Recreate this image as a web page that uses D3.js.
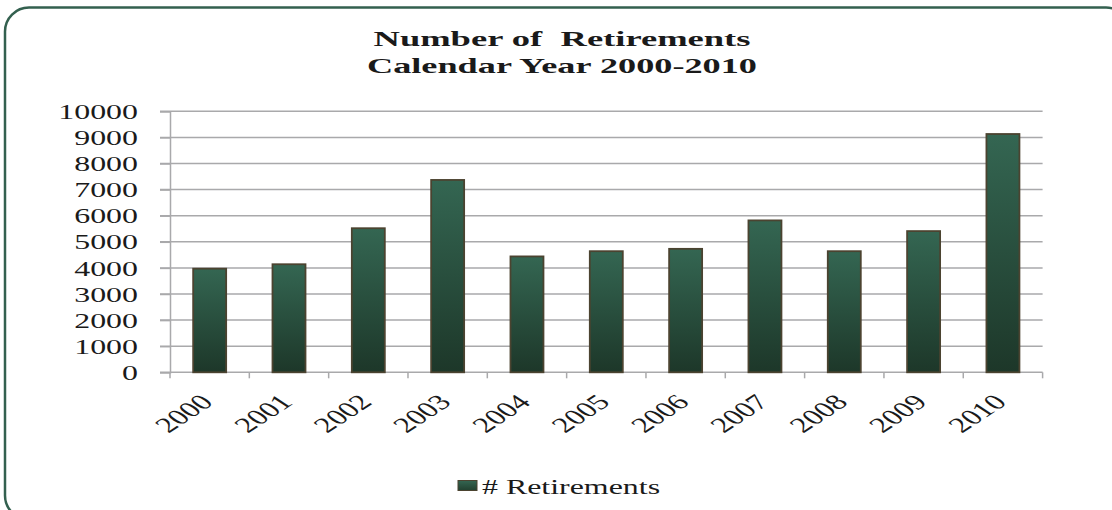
<!DOCTYPE html>
<html>
<head>
<meta charset="utf-8">
<script src="https://cdn.jsdelivr.net/npm/d3@7"></script>
<style>
  html, body { margin: 0; padding: 0; background: #fff; }
  svg { display: block; }
</style>
</head>
<body>
<svg id="chart" width="1112" height="510"></svg>
<script>
const years = ["2000","2001","2002","2003","2004","2005","2006","2007","2008","2009","2010"];
const retirements = [3970, 4140, 5520, 7370, 4440, 4640, 4730, 5820, 4640, 5410, 9130];
const yTicks = [0,1000,2000,3000,4000,5000,6000,7000,8000,9000,10000];
const titleLines = ["Number of  Retirements", "Calendar Year 2000-2010"];
const seriesName = "# Retirements";

const FONT = "'Liberation Serif', 'Times New Roman', serif";
const svg = d3.select("#chart");
const SX = 1.52; // horizontal stretch of the picture's text

// frame
svg.append("rect")
  .attr("x", 5).attr("y", 7.5)
  .attr("width", 1125).attr("height", 512)
  .attr("rx", 24).attr("ry", 24)
  .attr("fill", "#fff")
  .attr("stroke", "#33604f").attr("stroke-width", 2.5);

const plot = { left: 170, right: 1042.6, top: 111.3, bottom: 372.3 };

const x = d3.scaleBand().domain(years).range([plot.left, plot.right]).paddingInner(0).paddingOuter(0);
const y = d3.scaleLinear().domain([0, 10000]).range([plot.bottom, plot.top]);

// gradient
const defs = svg.append("defs");
const grad = defs.append("linearGradient").attr("id", "barGrad")
  .attr("x1", 0).attr("y1", 0).attr("x2", 0).attr("y2", 1);
grad.append("stop").attr("offset", "0%").attr("stop-color", "#346652");
grad.append("stop").attr("offset", "100%").attr("stop-color", "#1d3729");
const lgrad = defs.append("linearGradient").attr("id", "legGrad")
  .attr("x1", 0).attr("y1", 0).attr("x2", 0).attr("y2", 1);
lgrad.append("stop").attr("offset", "0%").attr("stop-color", "#346652");
lgrad.append("stop").attr("offset", "100%").attr("stop-color", "#22402f");

// gridlines
svg.append("g").selectAll("line").data(yTicks.filter(d => d > 0)).join("line")
  .attr("x1", plot.left - 10).attr("x2", plot.right)
  .attr("y1", d => y(d)).attr("y2", d => y(d))
  .attr("stroke", "#a9a9ab").attr("stroke-width", 1.5);

// y axis
const yAxis = svg.append("g").attr("transform", `translate(${plot.left},0)`)
  .call(d3.axisLeft(y).tickValues(yTicks).tickSize(10).tickPadding(0).tickFormat(d3.format("d")));
yAxis.attr("font-family", null);
yAxis.select(".domain").attr("stroke", "#a9a9ab").attr("stroke-width", 1.5);
yAxis.selectAll(".tick line").attr("stroke", "#a9a9ab").attr("stroke-width", 1.5);
yAxis.selectAll(".tick text")
  .attr("x", 0)
  .attr("dy", "0.34em")
  .attr("transform", `translate(-32,0) scale(${SX},1)`)
  .style("font-family", FONT)
  .style("font-size", "21px")
  .style("fill", "#1a1a1a");

// x axis
const xAxis = svg.append("g").attr("transform", `translate(0,${plot.bottom})`)
  .call(d3.axisBottom(x).tickSize(0).tickFormat(""));
xAxis.select(".domain").attr("stroke", "#a9a9ab").attr("stroke-width", 1.5)
  .attr("d", `M${plot.left - 10},0H${plot.right}`);
xAxis.selectAll(".tick").remove();
const bounds = years.map(d => x(d)).concat([x(years[years.length - 1]) + x.bandwidth()]);
xAxis.selectAll("line.sep").data(bounds).join("line").attr("class", "sep")
  .attr("x1", d => d).attr("x2", d => d).attr("y1", 0).attr("y2", 6)
  .attr("stroke", "#a9a9ab").attr("stroke-width", 1.5);

// x labels
svg.append("g").selectAll("text").data(years).join("text")
  .attr("text-anchor", "end")
  .attr("transform", d => `translate(${x(d) + x.bandwidth() / 2 + 5},${plot.bottom + 31}) scale(${SX},1) rotate(-45)`)
  .style("font-family", FONT)
  .style("font-size", "21.5px")
  .style("fill", "#1a1a1a")
  .text(d => d);

// bars
const bw = 33;
svg.append("g").selectAll("rect").data(years).join("rect")
  .attr("x", d => x(d) + (x.bandwidth() - bw) / 2)
  .attr("width", bw)
  .attr("y", (d, i) => y(retirements[i]))
  .attr("height", (d, i) => y(0) - y(retirements[i]))
  .attr("fill", "url(#barGrad)")
  .attr("stroke", "#4b4330").attr("stroke-width", 1.8);

// title
svg.append("g").selectAll("text").data(titleLines).join("text")
  .attr("x", 562).attr("y", (d, i) => 46 + i * 27)
  .attr("text-anchor", "middle")
  .attr("textLength", (d, i) => i === 0 ? 377 : 390)
  .attr("lengthAdjust", "spacingAndGlyphs")
  .style("font-family", FONT)
  .style("font-size", "21.5px").style("font-weight", "bold")
  .style("fill", "#1a1a1a")
  .style("white-space", "pre")
  .text(d => d);

// legend
const leg = svg.append("g");
leg.append("rect").attr("x", 458).attr("y", 480.5).attr("width", 19).attr("height", 10)
  .attr("fill", "url(#legGrad)").attr("stroke", "#4b4330").attr("stroke-width", 1);
leg.append("text")
  .attr("transform", `translate(482,494) scale(${SX},1)`)
  .style("font-family", FONT)
  .style("font-size", "21px")
  .style("fill", "#1a1a1a")
  .style("white-space", "pre")
  .text(seriesName);
</script>
</body>
</html>
